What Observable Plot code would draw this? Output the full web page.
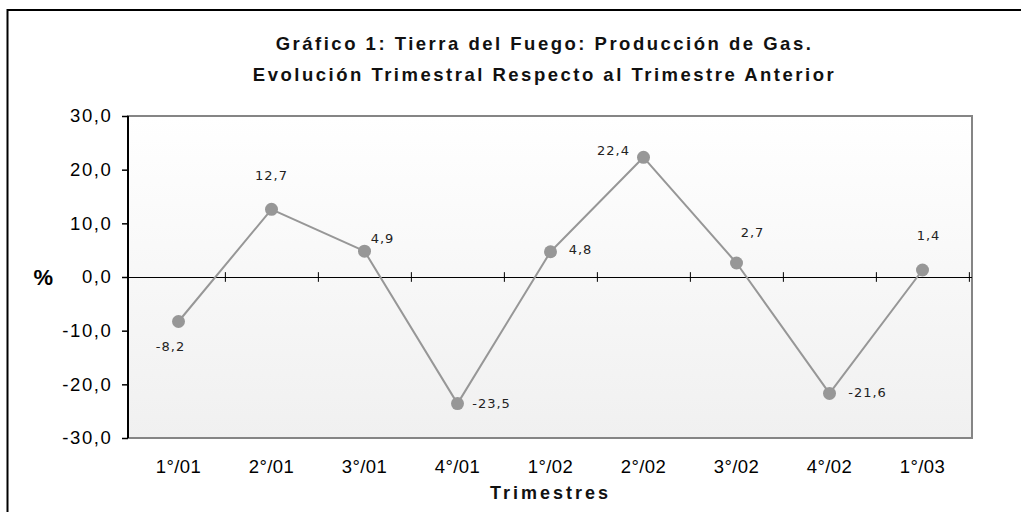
<!DOCTYPE html>
<html>
<head>
<meta charset="utf-8">
<script src="https://cdn.jsdelivr.net/npm/d3@7"></script>
<script src="https://cdn.jsdelivr.net/npm/@observablehq/plot@0.6"></script>
<style>
  html, body { margin: 0; padding: 0; background: #fff; }
  #chart svg { display: block; }
  #chart g[aria-label="y-axis tick label"] text { letter-spacing: 1.6px; }
  #chart g[aria-label="x-axis tick label"] text { letter-spacing: 0.4px; }
</style>
</head>
<body>
<div id="chart"></div>
<script>
// ---- data ----
const quarters = ["1°/01", "2°/01", "3°/01", "4°/01", "1°/02", "2°/02", "3°/02", "4°/02", "1°/03"];
const values = [-8.2, 12.7, 4.9, -23.5, 4.8, 22.4, 2.7, -21.6, 1.4];
const yTicks = [-30, -20, -10, 0, 10, 20, 30];
const titleLines = [
  "Gráfico 1: Tierra del Fuego: Producción de Gas.",
  "Evolución Trimestral Respecto al Trimestre Anterior"
];
const xLabel = "Trimestres";
const yLabel = "%";

// ---- layout (label placement relative to each point, px) ----
const labelOffsets = [[-8, 25], [0, -34], [18, -12], [34, 0], [30, -2], [-30, -6], [16, -30], [38, -1], [6, -34]];

const data = quarters.map((q, i) => ({q, v: values[i]}));
const fmt = d => d.toFixed(1).replace(".", ",");

const W = 1021, H = 512;
const mL = 128, mR = 49, mT = 116, mB = 74;
const step = (W - mL - mR) / quarters.length;

const decor = (index, scales, values, dims) => {
  const g = d3.create("svg:g");
  const defs = g.append("defs");
  const lg = defs.append("linearGradient").attr("id", "bggrad")
    .attr("x1", 0).attr("y1", 0).attr("x2", 0).attr("y2", 1);
  lg.append("stop").attr("offset", "0%").attr("stop-color", "#ffffff");
  lg.append("stop").attr("offset", "100%").attr("stop-color", "#f0f0f0");
  const x0 = dims.marginLeft, x1 = dims.width - dims.marginRight;
  const y0 = dims.marginTop, y1 = dims.height - dims.marginBottom;
  g.append("rect").attr("x", x0).attr("y", y0).attr("width", x1 - x0).attr("height", y1 - y0)
    .attr("fill", "url(#bggrad)").attr("stroke", "#858585").attr("stroke-width", 2);
  // outer chart-area border (top & left visible)
  g.append("path").attr("d", `M7.5,${dims.height} V10 H${dims.width}`)
    .attr("fill", "none").attr("stroke", "#000").attr("stroke-width", 2);
  return g.node();
};

const leftAxisLine = (index, scales, values, dims) => {
  const g = d3.create("svg:g");
  g.append("line").attr("x1", dims.marginLeft).attr("x2", dims.marginLeft)
    .attr("y1", dims.marginTop).attr("y2", dims.height - dims.marginBottom)
    .attr("stroke", "#000").attr("stroke-width", 2);
  return g.node();
};

const chart = Plot.plot({
  width: W,
  height: H,
  marginLeft: mL,
  marginRight: mR,
  marginTop: mT,
  marginBottom: mB,
  style: {fontFamily: "'Liberation Sans', Arial, sans-serif", color: "#000", background: "#fff"},
  x: {type: "point", domain: quarters, padding: 0.5, label: null},
  y: {domain: [-30, 30], label: null},
  marks: [
    decor,
    Plot.axisY({ticks: yTicks, tickFormat: fmt, tickSize: 6, tickPadding: 10, fontSize: 18.5,
      stroke: "#000", strokeWidth: 1.5}),
    Plot.axisX({tickSize: 0, tickPadding: 21, fontSize: 18.5}),
    Plot.ruleY([0], {stroke: "#000", strokeWidth: 1}),
    Plot.ruleX(quarters, {x: d => d, y1: -0.9, y2: 0.9, dx: step / 2, stroke: "#000", strokeWidth: 1}),
    leftAxisLine,
    Plot.line(data, {x: "q", y: "v", stroke: "#979797", strokeWidth: 2}),
    Plot.dot(data, {x: "q", y: "v", r: 6.5, fill: "#979797", stroke: "none"}),
    ...data.map((d, i) => Plot.text([d], {x: "q", y: "v", text: dd => fmt(dd.v),
      dx: labelOffsets[i][0], dy: labelOffsets[i][1], fontSize: 13, fill: "#222",
      fontFamily: "'DejaVu Sans', Verdana, sans-serif"})),
    Plot.text([titleLines[0]], {frameAnchor: "top", dy: -80, dx: -6, fontSize: 18.5, fontWeight: "bold", fill: "#111"}),
    Plot.text([titleLines[1]], {frameAnchor: "top", dy: -49, dx: -6, fontSize: 18.5, fontWeight: "bold", fill: "#111"}),
    Plot.text([xLabel], {frameAnchor: "bottom", dy: 60, fontSize: 18, fontWeight: "bold", fill: "#111"}),
    Plot.text([yLabel], {frameAnchor: "left", y: 0, dx: -95, fontSize: 22, fontWeight: "bold", fill: "#000"})
  ]
});
document.getElementById("chart").appendChild(chart);

// letter spacing to match the reference's wide typesetting
const spacing = new Map([[titleLines[0], 2.5], [titleLines[1], 2.5], [xLabel, 3]]);
d3.select(chart).selectAll("text").each(function () {
  const t = this.textContent;
  if (spacing.has(t)) this.style.letterSpacing = spacing.get(t) + "px";
});
d3.select(chart).selectAll("g[aria-label='text'] text").each(function () {
  if (!spacing.has(this.textContent) && this.textContent !== yLabel) this.style.letterSpacing = "1px";
});
</script>
</body>
</html>
